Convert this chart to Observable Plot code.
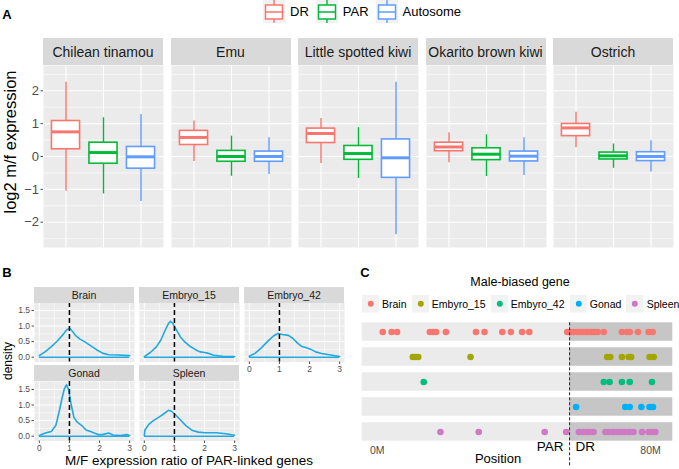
<!DOCTYPE html>
<html><head><meta charset="utf-8">
<script src="https://cdn.jsdelivr.net/npm/d3@7"></script>
<script src="https://cdn.jsdelivr.net/npm/@observablehq/plot@0.6"></script>
<style>
body{margin:0;background:#fff;}
#root{position:relative;width:679px;height:469px;overflow:hidden;font-family:"Liberation Sans",Arial,Helvetica,sans-serif;background:#fff;color:#000;}
.abs{position:absolute;}
.strip{position:absolute;background:#D9D9D9;color:#1A1A1A;display:flex;align-items:center;justify-content:center;white-space:nowrap;overflow:hidden;}
.ctr{position:absolute;transform:translate(-50%,-50%);white-space:nowrap;line-height:1;}
.leg{position:absolute;display:flex;align-items:center;white-space:nowrap;}
</style></head><body><div id="root"></div>
<script>
// ---------------- Panel A data ----------------
const speciesA = ["Chilean tinamou","Emu","Little spotted kiwi","Okarito brown kiwi","Ostrich"];
const groupsA = ["DR","PAR","Autosome"];
const colorsA = ["#F8766D","#00BA38","#619CFF"];
// [whisker min, Q1, median, Q3, whisker max] per species
const boxDR   = [[-1.06,0.22,0.75,1.08,2.26],[-0.15,0.35,0.58,0.78,1.08],[-0.21,0.41,0.70,0.85,1.16],[-0.19,0.16,0.29,0.42,0.72],[0.27,0.62,0.87,0.99,1.35]];
const boxPAR  = [[-1.14,-0.22,0.12,0.42,1.18],[-0.60,-0.16,0.00,0.17,0.62],[-0.67,-0.10,0.09,0.32,0.88],[-0.61,-0.11,0.07,0.25,0.66],[-0.36,-0.09,0.02,0.12,0.38]];
const boxAuto = [[-1.37,-0.37,-0.01,0.29,1.28],[-0.55,-0.16,0.00,0.15,0.57],[-2.38,-0.65,-0.04,0.52,2.26],[-0.58,-0.15,0.01,0.15,0.57],[-0.47,-0.14,0.00,0.13,0.48]];
const yTicksA = [-2,-1,0,1,2];
const yMinorA = [-2.5,-1.5,-0.5,0.5,1.5,2.5];

// ---------------- Panel B data ----------------
const tissuesB = ["Brain","Embryo_15","Embryo_42","Gonad","Spleen"];
const densBrain = [[0,0.05],[0.2,0.18],[0.4,0.34],[0.6,0.52],[0.8,0.74],[0.9,0.87],[1.0,0.93],[1.1,0.83],[1.2,0.7],[1.35,0.58],[1.5,0.5],[1.7,0.37],[1.9,0.24],[2.1,0.13],[2.3,0.08],[2.6,0.07],[3.0,0.05]];
const densEmb15 = [[0,0.02],[0.2,0.15],[0.4,0.33],[0.55,0.55],[0.7,0.88],[0.8,1.08],[0.87,1.15],[0.95,1.08],[1.05,0.9],[1.2,0.65],[1.35,0.48],[1.5,0.36],[1.7,0.24],[1.85,0.17],[2.0,0.15],[2.1,0.13],[2.3,0.06],[2.6,0.03],[3.0,0.02]];
const densEmb42 = [[0,0.03],[0.2,0.13],[0.4,0.3],[0.6,0.5],[0.8,0.68],[0.95,0.76],[1.1,0.73],[1.3,0.7],[1.45,0.6],[1.6,0.45],[1.75,0.34],[1.9,0.3],[2.05,0.25],[2.2,0.17],[2.4,0.12],[2.7,0.07],[3.0,0.02]];
const densGonad = [[0,0.02],[0.2,0.1],[0.4,0.15],[0.55,0.35],[0.65,0.75],[0.75,1.2],[0.83,1.52],[0.9,1.65],[0.97,1.5],[1.05,1.05],[1.15,0.6],[1.25,0.46],[1.4,0.35],[1.55,0.2],[1.75,0.13],[1.95,0.05],[2.1,0.05],[2.3,0.1],[2.45,0.04],[2.7,0.02],[2.9,0.05],[3.0,0.02]];
const densSpleen = [[0,0.02],[0.02,0.2],[0.15,0.38],[0.3,0.5],[0.5,0.62],[0.65,0.72],[0.8,0.83],[0.9,0.8],[1.0,0.72],[1.2,0.52],[1.4,0.32],[1.6,0.18],[1.8,0.13],[2.0,0.11],[2.4,0.11],[2.7,0.08],[3.0,0.03]];
const densB = [densBrain,densEmb15,densEmb42,densGonad,densSpleen];
const xTicksB = [0,1,2,3], xMinorB = [0.5,1.5,2.5];
const yTicksB = [0,0.5,1,1.5], yMinorB = [0.25,0.75,1.25];
const refRatio = 1;

// ---------------- Panel C data ----------------
const tissuesC = ["Brain","Embyro_15","Embyro_42","Gonad","Spleen"];
const colorsC = ["#F8766D","#A3A500","#00BF7D","#00B0F6","#CF78C3"];
const posBrain = [1.6,4.2,5.8,15.4,16.3,17.2,20.1,28.9,31.4,36.6,39.1,42.4,44.5,55.6,56.5,57.4,58.3,59.2,60.1,61.0,61.8,62.7,63.6,64.5,66.3,71.6,73.1,73.9,76.3,79.4,80.6];
const posEmb15 = [10.4,11.2,12.0,27.3,67.3,68.2,71.6,73.6,74.3,79.7,80.9];
const posEmb42 = [13.6,66.3,68.0,71.6,73.9,80.4];
const posGonad = [58.2,72.6,73.9,77.3,79.7,80.7];
const posSpleen = [18.5,29.7,49.0,55.3,59.0,60.1,61.1,62.1,63.3,66.8,67.9,69.1,70.3,71.4,72.6,73.8,75.0,77.5,79.4,80.4,81.4];
const posC = [posBrain,posEmb15,posEmb42,posGonad,posSpleen];
const parBoundary = 56.3;
const xTicksC = [0,80];
const xDomC = [-4.4,86.5];

// ---------------- helpers ----------------
const FONT = '"Liberation Sans", Arial, Helvetica, sans-serif';
const root = document.getElementById("root");
function place(el,left,top){const d=document.createElement("div");d.className="abs";d.style.left=left+"px";d.style.top=top+"px";d.appendChild(el);root.appendChild(d);return d;}
function textAt(t,cx,cy,css){const d=document.createElement("div");d.className="ctr";d.textContent=t;d.style.left=cx+"px";d.style.top=cy+"px";Object.assign(d.style,css||{});root.appendChild(d);return d;}
function strip(t,left,top,w,h,fs){const d=document.createElement("div");d.className="strip";d.textContent=t;Object.assign(d.style,{left:left+"px",top:top+"px",width:w+"px",height:h+"px",fontSize:fs+"px"});root.appendChild(d);}
const fmtMinus = d => d<0 ? "\u2212"+Math.abs(d) : String(d);
const NS="http://www.w3.org/2000/svg";

// panel letters
textAt("A",7,14,{fontWeight:"bold",fontSize:"13px"});
textAt("B",7,272,{fontWeight:"bold",fontSize:"13px"});
textAt("C",365,272,{fontWeight:"bold",fontSize:"13px"});

// ---------------- Panel A ----------------
const aLefts=[43,170.5,298,425.5,553];
speciesA.forEach((sp,i)=>{
  const rows = groupsA.map((g,j)=>{const b=[boxDR,boxPAR,boxAuto][j][i];return {group:g,min:b[0],q1:b[1],med:b[2],q3:b[3],max:b[4]};});
  const ml = i===0?43:0;
  const marks=[
    Plot.frame({fill:"#EBEBEB",stroke:"none"}),
    Plot.ruleY(yMinorA,{stroke:"#fff",strokeWidth:0.6}),
    Plot.ruleY(yTicksA,{stroke:"#fff",strokeWidth:1.1}),
    Plot.ruleX(groupsA,{stroke:"#fff",strokeWidth:1.1}),
    Plot.ruleX(rows,{x:"group",y1:"min",y2:"max",stroke:"group",strokeWidth:1.4}),
    Plot.barY(rows,{x:"group",y1:"q1",y2:"q3",fill:"#fff",stroke:"group",strokeWidth:1.6}),
    Plot.tickY(rows,{x:"group",y:"med",stroke:"group",strokeWidth:3})
  ];
  const yOpt={domain:[-2.77,2.77]};
  if(i===0) marks.push(Plot.axisY({ticks:yTicksA,tickSize:2.5,tickPadding:2,label:null,tickFormat:fmtMinus}));
  else yOpt.axis=null;
  const p=Plot.plot({width:120+ml,height:182,marginLeft:ml,marginRight:0,marginTop:0,marginBottom:0,
    x:{type:"band",domain:groupsA,paddingInner:0.25,paddingOuter:0.225,round:false,axis:null},
    y:yOpt, color:{domain:groupsA,range:colorsA},
    style:{background:"transparent",fontFamily:FONT,fontSize:"13px",color:"#4D4D4D",overflow:"visible"},
    marks});
  place(p,aLefts[i]-ml,65);
  strip(sp,aLefts[i],38,120,27,14);
});
textAt("log2 m/f expression",9.5,142,{fontSize:"16.5px",transform:"translate(-50%,-50%) rotate(-90deg)"});

// legend A
(function(){
  const lg=document.createElement("div");lg.className="leg";lg.style.left="263px";lg.style.top="0px";lg.style.height="23px";
  groupsA.forEach((g,j)=>{
    const svg=document.createElementNS(NS,"svg");svg.setAttribute("width","22");svg.setAttribute("height","23");
    svg.innerHTML=`<rect width="22" height="23" fill="#F2F2F2"/><line x1="11" x2="11" y1="0" y2="23" stroke="${colorsA[j]}" stroke-width="1.4"/><rect x="2.5" y="5" width="17" height="14" fill="#fff" stroke="${colorsA[j]}" stroke-width="1.5"/><line x1="2.5" x2="19.5" y1="12" y2="12" stroke="${colorsA[j]}" stroke-width="1.5"/>`;
    lg.appendChild(svg);
    const t=document.createElement("span");t.textContent=g;t.style.fontSize="13px";t.style.margin="0 7px 0 5px";
    lg.appendChild(t);
  });
  root.appendChild(lg);
})();

// ---------------- Panel B ----------------
const bCols=[34,139,244], bStripTop=[287,365], bPanelTop=[302,380.5];
const densColor="#21A8DE";
tissuesB.forEach((t,k)=>{
  const col=k%3,row=Math.floor(k/3);
  const pts=densB[k];
  const showY=col===0, showX=(row===1||k===2);
  const ml=showY?34:0, mb=showX?12:0;
  const xs=pts.map(d=>d[0]);
  const lo=d3.min(xs),hi=d3.max(xs);
  const marks=[
    Plot.frame({fill:"#EBEBEB",stroke:"none"}),
    Plot.ruleY(yMinorB,{stroke:"#fff",strokeWidth:0.5}),
    Plot.ruleX(xMinorB,{stroke:"#fff",strokeWidth:0.5}),
    Plot.ruleY(yTicksB,{stroke:"#fff",strokeWidth:1}),
    Plot.ruleX(xTicksB,{stroke:"#fff",strokeWidth:1}),
    Plot.ruleY([0],{x1:()=>lo,x2:()=>hi,stroke:densColor,strokeWidth:1.5}),
    Plot.line(pts,{x:d=>d[0],y:d=>d[1],stroke:densColor,strokeWidth:1.6}),
    Plot.ruleX([refRatio],{stroke:"#000",strokeWidth:1.5,strokeDasharray:"5,3"})
  ];
  const xOpt={domain:[-0.16,3.16]}, yOpt={domain:[-0.155,1.755]};
  if(showY) marks.push(Plot.axisY({ticks:yTicksB,tickSize:2.5,tickPadding:2,label:null,tickFormat:d3.format(".1f")})); else yOpt.axis=null;
  if(showX) marks.push(Plot.axisX({ticks:xTicksB,tickSize:2.5,tickPadding:1,label:null,tickFormat:d3.format("d")})); else xOpt.axis=null;
  const p=Plot.plot({width:100+ml,height:59.5+mb,marginLeft:ml,marginRight:0,marginTop:0,marginBottom:mb,
    x:xOpt,y:yOpt,
    style:{background:"transparent",fontFamily:FONT,fontSize:"8.5px",color:"#4D4D4D",overflow:"visible"},
    marks});
  place(p,bCols[col]-ml,bPanelTop[row]);
  strip(t,bCols[col],bStripTop[row],100,15.5,10.5);
});
textAt("density",8,361,{fontSize:"12px",transform:"translate(-50%,-50%) rotate(-90deg)"});
textAt("M/F expression ratio of PAR-linked genes",189,461,{fontSize:"13.5px"});

// ---------------- Panel C ----------------
const pointsC=[];
tissuesC.forEach((t,k)=>posC[k].forEach(v=>pointsC.push({tissue:t,pos:v})));
(function(){
  const p=Plot.plot({width:339,height:154,marginLeft:21.7,marginRight:6.7,marginTop:7.3,marginBottom:28.3,
    x:{domain:xDomC},
    y:{type:"band",domain:tissuesC,paddingInner:0.26,paddingOuter:0,round:false,axis:null},
    color:{domain:tissuesC,range:colorsC},
    style:{background:"transparent",fontFamily:FONT,fontSize:"10.5px",color:"#4D4D4D",overflow:"visible"},
    marks:[
      Plot.barX(tissuesC,{y:d=>d,x1:()=>xDomC[0],x2:()=>parBoundary,fill:"#EBEBEB"}),
      Plot.barX(tissuesC,{y:d=>d,x1:()=>parBoundary,x2:()=>xDomC[1],fill:"#C6C6C6"}),
      Plot.dot(pointsC,{x:"pos",y:"tissue",fill:"tissue",r:3.3}),
      Plot.ruleX([parBoundary],{stroke:"#222",strokeWidth:1,strokeDasharray:"3,2",insetBottom:-26}),
      Plot.axisX({ticks:xTicksC,tickSize:0,tickPadding:5,tickFormat:d=>d+"M",label:null}),
      Plot.text(["PAR"],{x:()=>parBoundary,frameAnchor:"bottom",dy:10,dx:-6,textAnchor:"end",fontSize:13.5,fill:"#000"}),
      Plot.text(["DR"],{x:()=>parBoundary,frameAnchor:"bottom",dy:10,dx:6,textAnchor:"start",fontSize:13.5,fill:"#000"})
    ]});
  place(p,340,315);
})();
textAt("Position",498,458,{fontSize:"13px"});
textAt("Male-biased gene",520,282,{fontSize:"12.5px"});
(function(){
  const lg=document.createElement("div");lg.className="leg";lg.style.left="361.7px";lg.style.top="295px";lg.style.height="17.5px";
  tissuesC.forEach((t,k)=>{
    const svg=document.createElementNS(NS,"svg");svg.setAttribute("width","17.3");svg.setAttribute("height","17.5");
    svg.innerHTML=`<rect width="17.3" height="17.5" fill="#F2F2F2"/><circle cx="8.8" cy="8.75" r="3" fill="${colorsC[k]}"/>`;
    lg.appendChild(svg);
    const s=document.createElement("span");s.textContent=t;s.style.fontSize="10.5px";s.style.margin="0 5px 0 3px";
    lg.appendChild(s);
  });
  root.appendChild(lg);
})();
</script></body></html>
